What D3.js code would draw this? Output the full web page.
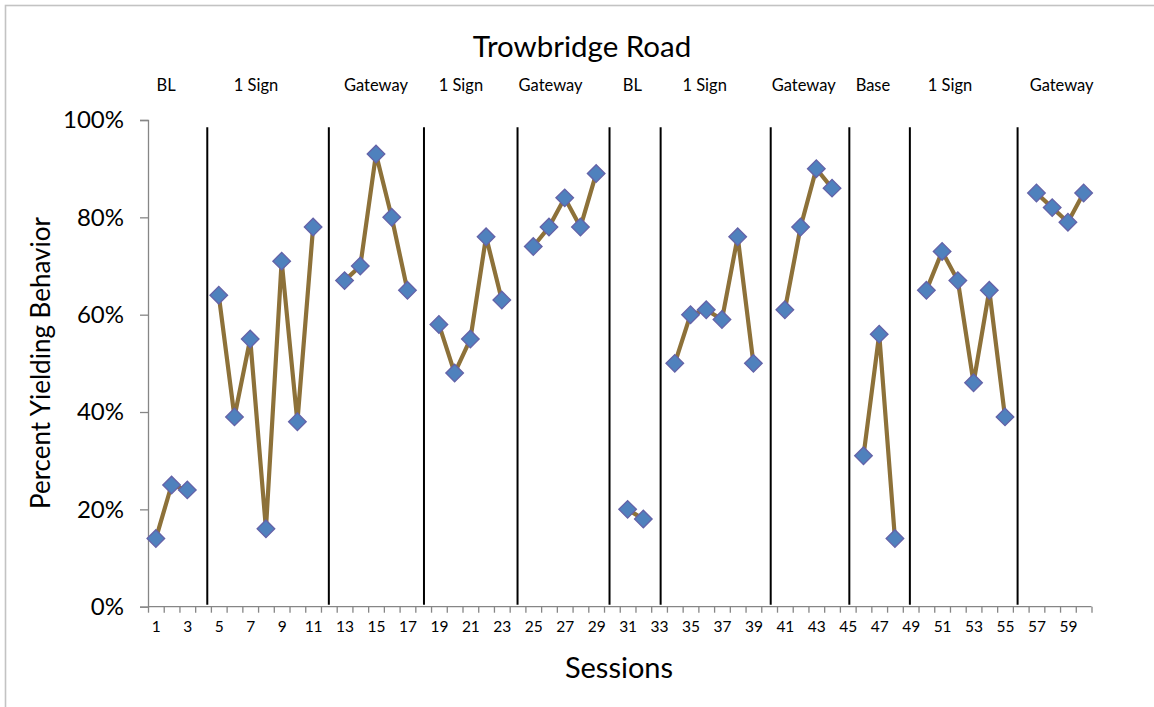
<!DOCTYPE html>
<html><head><meta charset="utf-8">
<script src="https://cdn.jsdelivr.net/npm/d3@7"></script>
<style>
html,body{margin:0;padding:0;background:#fff;}
svg{display:block;font-family:Lato,"Open Sans",sans-serif;}
</style></head>
<body><svg id="c" width="1154" height="707"></svg>
<script>
// ---- data ----
const sessions = d3.range(1, 61);
const yielding = [
  14, 25, 24, null, 64, 39, 55, 16, 71, 38,
  78, null, 67, 70, 93, 80, 65, null, 58, 48,
  55, 76, 63, null, 74, 78, 84, 78, 89, null,
  20, 18, null, 50, 60, 61, 59, 76, 50, null,
  61, 78, 90, 86, null, 31, 56, 14, null, 65,
  73, 67, 46, 65, 39, null, 85, 82, 79, 85
];
const phaseNames = ["BL","1 Sign","Gateway","1 Sign","Gateway","BL","1 Sign","Gateway","Base","1 Sign","Gateway"];
const phaseLabelAt = [1.65, 7.37, 15.0, 20.4, 26.1, 31.3, 35.9, 42.2, 46.6, 51.5, 58.6];
const phaseChanges = [4.27, 12.0, 18.05, 24.0, 29.85, 33.1, 40.1, 45.1, 48.95, 55.8];
const yTicks = [0, 20, 40, 60, 80, 100];
const xTickLabels = sessions.filter(s => s % 2 === 1);

// ---- layout ----
const svg = d3.select("#c");
const x = d3.scaleLinear().domain([0.5, 60.5]).range([148, 1091.5]);
const y = d3.scaleLinear().domain([0, 100]).range([606.7, 120]);
const axisColor = "#868686";

// outer frame
svg.append("rect").attr("x", 5.5).attr("y", 5.5).attr("width", 1170).attr("height", 730)
  .attr("fill", "none").attr("stroke", "#c3c3c3").attr("stroke-width", 1.6);

// title
svg.append("text").attr("x", 582).attr("y", 57).attr("text-anchor", "middle")
  .attr("font-size", 29.5).attr("fill", "#000").text("Trowbridge Road");

// phase labels
svg.append("g").selectAll("text").data(phaseNames).join("text")
  .attr("x", (d, i) => x(phaseLabelAt[i])).attr("y", 91)
  .attr("text-anchor", "middle").attr("font-size", 16.5).attr("fill", "#000")
  .text(d => d);

// y axis
const gy = svg.append("g").attr("transform", "translate(148,0)")
  .call(d3.axisLeft(y).tickValues(yTicks).tickSize(8).tickPadding(16).tickFormat(d => d + "%"));
gy.select(".domain").attr("stroke", axisColor).attr("stroke-width", 1.3);
gy.selectAll(".tick line").attr("stroke", axisColor).attr("stroke-width", 1.3);
gy.selectAll(".tick text").attr("font-size", 24).attr("font-family", "Lato").attr("fill", "#000");

// x axis: tick marks at category boundaries
const gx = svg.append("g").attr("transform", "translate(0,606.7)")
  .call(d3.axisBottom(x).tickValues(d3.range(0.5, 61, 1)).tickSize(6).tickFormat(""));
gx.select(".domain").attr("stroke", axisColor).attr("stroke-width", 1.3).attr("d", `M${x(0.5)},0H${x(60.5)}`);
gx.selectAll(".tick line").attr("stroke", axisColor).attr("stroke-width", 1.3);

// x axis labels
const gxl = svg.append("g").attr("transform", "translate(0,606.7)")
  .call(d3.axisBottom(x).tickValues(xTickLabels).tickSize(0).tickPadding(14).tickFormat(d3.format("d")));
gxl.select(".domain").remove();
gxl.selectAll(".tick text").attr("font-size", 15.5).attr("font-family", "Lato").attr("fill", "#000");

// axis titles
svg.append("text").attr("x", 619).attr("y", 678).attr("text-anchor", "middle")
  .attr("font-size", 29).attr("fill", "#000").text("Sessions");
svg.append("text").attr("transform", `translate(50,363) rotate(-90)`).attr("text-anchor", "middle")
  .attr("font-size", 26).attr("fill", "#000").text("Percent Yielding Behavior");

// phase change lines
svg.append("g").selectAll("line").data(phaseChanges).join("line")
  .attr("x1", d => x(d)).attr("x2", d => x(d))
  .attr("y1", y(98.5)).attr("y2", y(0.4))
  .attr("stroke", "#000").attr("stroke-width", 2);

// data line
const pts = sessions.map((s, i) => ({s, v: yielding[i]}));
svg.append("path").datum(pts)
  .attr("d", d3.line().defined(d => d.v !== null).x(d => x(d.s)).y(d => y(d.v)))
  .attr("fill", "none").attr("stroke", "#8d7139").attr("stroke-width", 4.2).attr("stroke-linejoin", "miter");

// markers
const diamond = d3.symbol().type(d3.symbolSquare).size(155);
svg.append("g").selectAll("path").data(pts.filter(d => d.v !== null)).join("path")
  .attr("d", diamond)
  .attr("transform", d => `translate(${x(d.s)},${y(d.v)}) rotate(45)`)
  .attr("fill", "#4f81bd").attr("stroke", "#6462a8").attr("stroke-width", 1.3);
</script></body></html>
